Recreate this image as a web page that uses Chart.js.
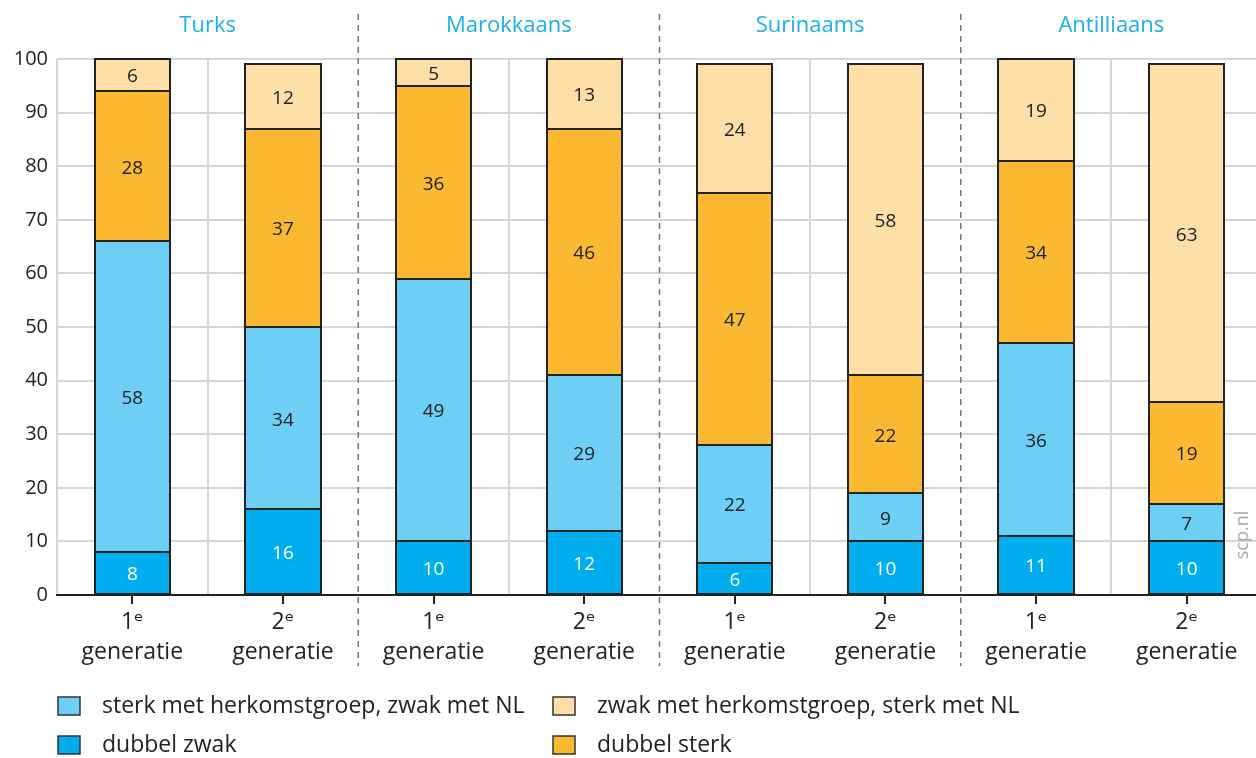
<!DOCTYPE html>
<html lang="nl">
<head>
<meta charset="utf-8">
<title>Binding met herkomstgroep en Nederland</title>
<script src="https://cdn.jsdelivr.net/npm/chart.js@4.4.1/dist/chart.umd.min.js"></script>
<style>
  html, body { margin: 0; padding: 0; background: #fff; overflow: hidden; }
  canvas { display: block; }
</style>
</head>
<body>
<canvas id="chart" width="1262" height="758"></canvas>
<script>
// groups and generations (x axis)
const groups = ["Turks", "Marokkaans", "Surinaams", "Antilliaans"];
const generations = [["1ᵉ", "generatie"], ["2ᵉ", "generatie"]];

// percentages per bar, bottom to top
const dubbelZwak    = [8, 16, 10, 12, 6, 10, 11, 10];
const sterkHerkomst = [58, 34, 49, 29, 22, 9, 36, 7];
const dubbelSterk   = [28, 37, 36, 46, 47, 22, 34, 19];
const zwakHerkomst  = [6, 12, 5, 13, 24, 58, 19, 63];

const seriesNames = [
  "dubbel zwak",
  "sterk met herkomstgroep, zwak met NL",
  "dubbel sterk",
  "zwak met herkomstgroep, sterk met NL"
];
const seriesColors = ["#00aeef", "#6dcff6", "#fbb931", "#ffdfa8"];
const labelColors  = ["#ffffff", "#222222", "#222222", "#222222"];

const FONT = "'Open Sans', 'DejaVu Sans', sans-serif";

const categories = [];
groups.forEach(() => generations.forEach(g => categories.push(g)));

const datasets = [dubbelZwak, sterkHerkomst, dubbelSterk, zwakHerkomst].map((data, i) => ({
  label: seriesNames[i],
  data: data,
  backgroundColor: seriesColors[i],
  borderWidth: 0,
  barPercentage: 0.5,
  categoryPercentage: 1.0
}));

// outlines and values of segments, group titles, separators, ticks, legend
const extras = {
  id: "extras",
  afterDatasetsDraw(chart) {
    const ctx = chart.ctx;
    ctx.save();
    ctx.strokeStyle = "#222";
    ctx.lineWidth = 2;
    chart.data.datasets.forEach((ds, di) => {
      chart.getDatasetMeta(di).data.forEach(bar => {
        const l = Math.round(bar.x - bar.width / 2);
        const r = Math.round(bar.x + bar.width / 2);
        const t = Math.round(Math.min(bar.y, bar.base));
        const b = Math.round(Math.max(bar.y, bar.base));
        ctx.strokeRect(l, t, r - l, b - t);
      });
    });

    ctx.textAlign = "center";
    ctx.textBaseline = "middle";
    ctx.font = "19px " + FONT;
    chart.data.datasets.forEach((ds, di) => {
      chart.getDatasetMeta(di).data.forEach((bar, i) => {
        ctx.fillStyle = labelColors[di];
        ctx.fillText(String(ds.data[i]), bar.x, (bar.y + bar.base) / 2 + 2);
      });
    });
    ctx.restore();
  },
  afterDraw(chart) {
    const ctx = chart.ctx;
    const x = chart.scales.x;
    const area = chart.chartArea;
    ctx.save();

    // tick marks under bar centres
    ctx.strokeStyle = "#222";
    ctx.lineWidth = 2;
    categories.forEach((c, i) => {
      const px = Math.round(x.getPixelForValue(i));
      ctx.beginPath();
      ctx.moveTo(px, area.bottom);
      ctx.lineTo(px, area.bottom + 9);
      ctx.stroke();
    });

    // dashed separators between groups
    ctx.strokeStyle = "#777";
    ctx.lineWidth = 1.5;
    ctx.setLineDash([6, 5]);
    for (let g = 1; g < groups.length; g++) {
      const px = (x.getPixelForValue(g * 2 - 1) + x.getPixelForValue(g * 2)) / 2;
      ctx.beginPath();
      ctx.moveTo(px, 14);
      ctx.lineTo(px, 666);
      ctx.stroke();
    }
    ctx.setLineDash([]);

    // group titles
    ctx.fillStyle = "#1ab0ea";
    ctx.font = "22px " + FONT;
    ctx.textAlign = "center";
    ctx.textBaseline = "middle";
    groups.forEach((name, g) => {
      const px = (x.getPixelForValue(g * 2) + x.getPixelForValue(g * 2 + 1)) / 2;
      ctx.fillText(name, px, 26);
    });

    // source
    ctx.save();
    ctx.translate(1243, 535);
    ctx.rotate(-Math.PI / 2);
    ctx.fillStyle = "#a8a8a8";
    ctx.font = "18px " + FONT;
    ctx.fillText("scp.nl", 0, 0);
    ctx.restore();

    // legend in two columns
    const order = [1, 3, 0, 2];
    const cols = [57, 552];
    const rows = [706, 745];
    ctx.font = "23px " + FONT;
    ctx.textAlign = "left";
    order.forEach((si, k) => {
      const bx = cols[k % 2];
      const by = rows[Math.floor(k / 2)];
      ctx.fillStyle = seriesColors[si];
      ctx.fillRect(bx + 1, by - 9, 22, 18);
      ctx.strokeStyle = "#333";
      ctx.lineWidth = 1.5;
      ctx.strokeRect(bx + 1, by - 9, 22, 18);
      ctx.fillStyle = "#222";
      ctx.fillText(seriesNames[si], bx + 45, by);
    });
    ctx.restore();
  }
};

new Chart(document.getElementById("chart"), {
  type: "bar",
  data: { labels: categories, datasets: datasets },
  options: {
    responsive: false,
    animation: false,
    layout: { padding: { top: 59, bottom: 78, left: 0, right: 0 } },
    plugins: { legend: { display: false }, tooltip: { enabled: false } },
    scales: {
      x: {
        stacked: true,
        afterFit(scale) { scale.height = 85; },
        grid: {
          offset: true,
          drawTicks: false,
          color: ctx => (ctx.index === 2 || ctx.index === 4 || ctx.index === 6) ? "rgba(0,0,0,0)" : "#d6d6d6",
          lineWidth: 2
        },
        border: { color: "#222", width: 2 },
        ticks: {
          color: "#222",
          font: { family: FONT, size: 23, lineHeight: 1.3 },
          padding: 13,
          maxRotation: 0
        }
      },
      y: {
        stacked: true,
        min: 0,
        max: 100,
        afterFit(scale) { scale.width = 57; },
        grid: { color: "#d6d6d6", lineWidth: 2, drawTicks: false },
        border: { display: false },
        ticks: {
          stepSize: 10,
          color: "#222",
          padding: 9,
          font: { family: FONT, size: 20 }
        }
      }
    }
  },
  plugins: [extras]
});
</script>
</body>
</html>
